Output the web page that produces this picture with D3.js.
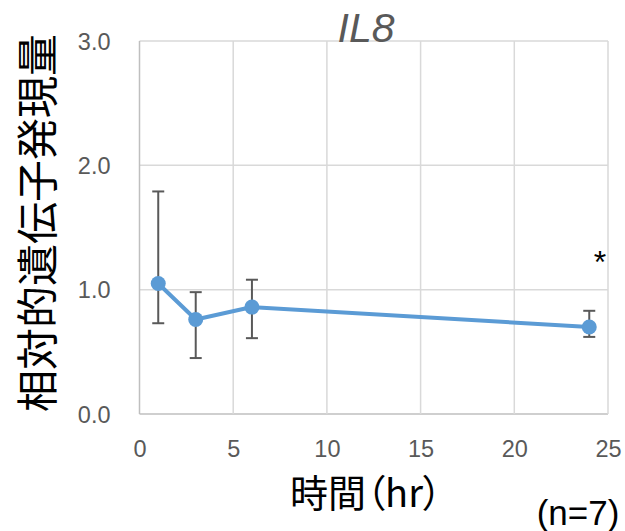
<!DOCTYPE html>
<html><head><meta charset="utf-8">
<script src="https://cdn.jsdelivr.net/npm/d3@7"></script>
<style>body{margin:0;background:#fff}svg{display:block}</style>
</head><body>
<script>
const hours = [1, 3, 6, 24];
const means = [1.05, 0.76, 0.86, 0.70];
const errUpper = [1.79, 0.98, 1.08, 0.83];
const errLower = [0.73, 0.45, 0.61, 0.62];
const xTicks = [0, 5, 10, 15, 20, 25];
const yTicks = [0, 1, 2, 3];
const title = "IL8";
const yTitle = "相対的遺伝子発現量";
const xTitle = "時間（hr）";
const note = "(n=7)";
const sig = "*";

const W = 625, H = 531;
const svg = d3.select("body").append("svg").attr("width", W).attr("height", H);
const m = {l: 139.5, r: 608, t: 41, b: 414};
const x = d3.scaleLinear().domain([0, 25]).range([m.l, m.r]);
const y = d3.scaleLinear().domain([0, 3]).range([m.b, m.t]);
const latin = "'Liberation Sans', Arial, sans-serif";
const cjk = "'Noto Sans CJK JP', sans-serif";

// gridlines
svg.append("g").selectAll("line").data(yTicks).join("line")
  .attr("x1", m.l).attr("x2", m.r).attr("y1", d => y(d)).attr("y2", d => y(d))
  .attr("stroke", d => d === 0 ? "#bfbfbf" : "#d9d9d9").attr("stroke-width", 1.5);
svg.append("g").selectAll("line").data(xTicks).join("line")
  .attr("y1", m.t).attr("y2", m.b).attr("x1", d => x(d)).attr("x2", d => x(d))
  .attr("stroke", d => d === 0 ? "#bfbfbf" : "#d9d9d9").attr("stroke-width", 1.5);

// axes labels via d3 axes
const yAxis = svg.append("g").attr("transform", `translate(${m.l - 29},0)`)
  .call(d3.axisLeft(y).tickValues(yTicks).tickFormat(d3.format(".1f")).tickSize(0));
yAxis.select(".domain").remove();
yAxis.selectAll("text").attr("font-family", latin).attr("font-size", 23.5).attr("fill", "#595959").attr("x", 0).attr("dy", "0.35em");

const xAxis = svg.append("g").attr("transform", `translate(0,${m.b + 26})`)
  .call(d3.axisBottom(x).tickValues(xTicks).tickFormat(d3.format("d")).tickSize(0));
xAxis.select(".domain").remove();
xAxis.selectAll("text").attr("font-family", latin).attr("font-size", 23.5).attr("fill", "#595959").attr("y", 0).attr("dy", "0.71em");

// error bars
const eb = svg.append("g").attr("stroke", "#595959").attr("stroke-width", 2);
hours.forEach((h, i) => {
  eb.append("line").attr("x1", x(h)).attr("x2", x(h)).attr("y1", y(errLower[i])).attr("y2", y(errUpper[i]));
  eb.append("line").attr("x1", x(h) - 6).attr("x2", x(h) + 6).attr("y1", y(errLower[i])).attr("y2", y(errLower[i]));
  eb.append("line").attr("x1", x(h) - 6).attr("x2", x(h) + 6).attr("y1", y(errUpper[i])).attr("y2", y(errUpper[i]));
});

// line
const pts = hours.map((h, i) => [h, means[i]]);
svg.append("path").datum(pts)
  .attr("d", d3.line().x(d => x(d[0])).y(d => y(d[1])))
  .attr("fill", "none").attr("stroke", "#5b9bd5").attr("stroke-width", 4).attr("stroke-linejoin", "round");
svg.append("g").selectAll("circle").data(pts).join("circle")
  .attr("cx", d => x(d[0])).attr("cy", d => y(d[1])).attr("r", 7.5).attr("fill", "#5b9bd5");

// title
svg.append("text").attr("x", 366).attr("y", 42).attr("text-anchor", "middle")
  .attr("font-family", latin).attr("font-style", "italic").attr("font-size", 41).attr("fill", "#595959").text(title);

// y title
svg.append("text").attr("transform", "translate(34,223) rotate(-90)")
  .attr("text-anchor", "middle").attr("dominant-baseline", "central")
  .attr("font-family", cjk).attr("font-size", 42).attr("fill", "#000").text(yTitle);

// x title
svg.append("text").attr("x", 366).attr("y", 507).attr("text-anchor", "middle")
  .attr("font-family", cjk).attr("font-size", 38).attr("fill", "#000")
  .style("font-feature-settings", "'palt' 1").text(xTitle);

// note
svg.append("text").attr("x", 578).attr("y", 525).attr("text-anchor", "middle")
  .attr("font-family", latin).attr("font-size", 35).attr("fill", "#000").text(note);

// significance
svg.append("text").attr("x", 600).attr("y", 273).attr("text-anchor", "middle")
  .attr("font-family", latin).attr("font-size", 32).attr("fill", "#000").text(sig);
</script>
</body></html>
